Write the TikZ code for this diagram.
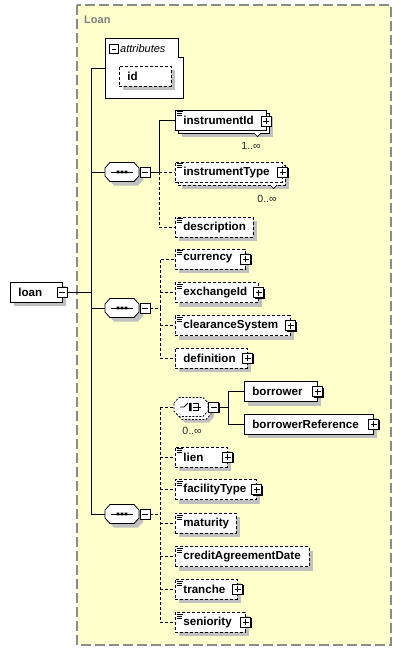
\documentclass[tikz,border=0pt]{standalone}
\usepackage{fontspec}
\setmainfont{Liberation Sans}
\usetikzlibrary{calc,shadows}
\definecolor{bgyellow}{RGB}{255,255,204}
\definecolor{shadowgray}{RGB}{192,192,192}
\definecolor{framegray}{RGB}{140,140,140}
\tikzset{
  elem/.style={draw=black, fill=white, line width=0.8pt, minimum height=20pt, inner sep=0pt, anchor=west,
    font=\bfseries\fontsize{11.6}{13}\selectfont},
  optelem/.style={elem, dash pattern=on 3pt off 2pt},
  shad/.style={general shadow={fill=shadowgray, shadow xshift=4pt, shadow yshift=-4pt}},
  conn/.style={line width=0.8pt},
  optconn/.style={conn, dash pattern=on 3pt off 2pt},
  iconbox/.style={draw=black, fill=white, line width=0.8pt, minimum size=10pt, inner sep=0pt,
    general shadow={fill=black, shadow xshift=1pt, shadow yshift=-1pt}},
  plusicon/.style={iconbox, path picture={\draw[line width=0.9pt]
      ([xshift=2pt]path picture bounding box.west) -- ([xshift=-2pt]path picture bounding box.east)
      ([yshift=-2pt]path picture bounding box.north) -- ([yshift=2pt]path picture bounding box.south);}},
  minusicon/.style={iconbox, path picture={\draw[line width=0.9pt]
      ([xshift=2pt]path picture bounding box.west) -- ([xshift=-2pt]path picture bounding box.east);}},
  holder/.style={inner sep=0pt, minimum width=34pt, minimum height=19pt},
  mult/.style={font=\fontsize{10.5}{12}\selectfont, text=black!85, inner sep=0pt},
}
\newcommand\el[6]{\node[#1,minimum width=#5pt] (#2) at (#3,#4) {\makebox[#5pt][l]{\hspace{8pt}#6}};}
\newcommand\doc[1]{\draw[line width=0.6pt] ($(#1.north west)+(1.5,2)$) -- ++(6.5,0)
  ($(#1.north west)+(1.5,4)$) -- ++(5,0) ($(#1.north west)+(1.5,6)$) -- ++(5,0);}
\newcommand\plusat[1]{\node[plusicon] (#1p) at (#1.east) {};}
\newcommand\octo[2][]{\begin{scope}[shift={(#2)}]
  \path[#1] (-17,-4) -- (-12,-9.5) -- (12,-9.5) -- (17,-4) -- (17,4) -- (12,9.5) -- (-12,9.5) -- (-17,4) -- cycle;
  \end{scope}}
\newcommand\seqsym[1]{%
  \octo[fill=shadowgray, shift={(4,4)}]{#1}
  \octo[draw=black, fill=white, line width=0.8pt]{#1}
  \begin{scope}[shift={(#1)}]
    \draw[line width=1pt] (-11,0) -- (11,0);
    \fill (-5.3,-1.4) rectangle (-2.7,1.4) (-1.3,-1.4) rectangle (1.3,1.4) (2.7,-1.4) rectangle (5.3,1.4);
  \end{scope}}
\begin{document}
\begin{tikzpicture}[x=1pt,y=-1pt]
\useasboundingbox (0,0) rectangle (402,654);
% background group
\draw[fill=bgyellow, draw=framegray, line width=1.2pt, dash pattern=on 10pt off 4pt] (77,5) rectangle (391,645);
\node[anchor=west, inner sep=0pt, text=black!50, font=\bfseries\fontsize{11}{13}\selectfont] (title) at (84,19.5) {Loan};

% attributes box
\draw[fill=white, line width=0.8pt] (105,38) -- (178,38) -- (178,57) -- (183,57) -- (183,98) -- (105,98) -- cycle;
\coordinate (attrW) at (105,68);
\node[minusicon, minimum size=8.5pt] (attrm) at (114,49) {};
\node[anchor=west, inner sep=0pt, font=\itshape\fontsize{11}{13}\selectfont] (attrt) at (120,48.5) {attributes};
\el{optelem,shad}{id}{119}{76}{52}{id}

% root
\el{elem,shad}{loan}{10}{292}{52}{loan}
\node[minusicon] (loanm) at (62,292) {};

% spine
\coordinate (spTop) at (91,68);
\coordinate (spBot) at (91,514);
\draw[conn] (attrW) -- (spTop) -- (spBot);
\draw[conn] (loanm.east) -- (loanm.east -| spTop);

% sequence 1
\node[holder] (s1) at (122,172) {};
\seqsym{s1}
\node[minusicon] (s1m) at (145,172) {};
\draw[conn] (s1.west -| spTop) -- (s1.west);
\coordinate (b1) at (159,172);

% instrumentId (stacked)
\el{elem,shad}{instrumentIdB}{178}{123}{91}{}
\el{elem}{instrumentId}{175}{120}{91}{instrumentId}
\doc{instrumentId}
\node[plusicon] (instrumentIdp) at (266,121) {};
\draw[fill=white, line width=0.7pt] (254,133) -- (257.5,136.5) -- (261,133);
\node[mult] (m1) at (251,146) {1..∞};

% instrumentType (stacked)
\el{optelem,shad}{instrumentTypeB}{178}{175}{107}{}
\el{optelem}{instrumentType}{175}{172}{107}{instrumentType}
\doc{instrumentType}
\plusat{instrumentType}
\draw[fill=white, line width=0.7pt] (270,185) -- (273.5,188.5) -- (277,185);
\node[mult] (m2) at (267,198.5) {0..∞};

\el{optelem,shad}{description}{175}{227}{78}{description}
\doc{description}

\draw[conn] (s1m.east) -- (b1) |- (instrumentId.west);
\draw[optconn] (b1) -- (instrumentType.west);
\draw[optconn] (b1) |- (description.west);

% sequence 2
\node[holder] (s2) at (122,308) {};
\seqsym{s2}
\node[minusicon] (s2m) at (145,308) {};
\draw[conn] (s2.west -| spTop) -- (s2.west);
\coordinate (b2) at (160,308);

\el{optelem,shad}{currency}{175}{259}{70}{currency}
\doc{currency}\plusat{currency}
\el{optelem,shad}{exchangeId}{175}{292.5}{83}{exchangeId}
\doc{exchangeId}\plusat{exchangeId}
\el{optelem,shad}{clearanceSystem}{175}{325.7}{115}{clearanceSystem}
\doc{clearanceSystem}\plusat{clearanceSystem}
\el{optelem,shad}{definition}{175}{358.3}{72}{definition}
\plusat{definition}

\draw[optconn] (s2m.east) -- (b2);
\draw[optconn] (b2) |- (currency.west);
\draw[optconn] (b2 |- exchangeId.west) -- (exchangeId.west);
\draw[optconn] (b2 |- clearanceSystem.west) -- (clearanceSystem.west);
\draw[optconn] (b2) |- (definition.west);

% sequence 3
\node[holder] (s3) at (122,514) {};
\seqsym{s3}
\node[minusicon] (s3m) at (145,514) {};
\draw[conn] (s3.west -| spTop) -- (s3.west);
\coordinate (b3) at (160,514);

% choice
\node[holder] (ch) at (191,407) {};
\octo[fill=shadowgray, shift={(6,6)}]{ch}
\octo[draw=black, fill=white, line width=0.7pt, dash pattern=on 2pt off 1.5pt, shift={(3,3)}]{ch}
\octo[draw=black, fill=white, line width=0.7pt, dash pattern=on 2pt off 1.5pt]{ch}
\begin{scope}[shift={(ch)}]
  \draw[line width=0.8pt] (-11,0) -- (-7,0) -- (-3,-4);
  \fill (-2,-4.2) rectangle (0.6,-1.6) (-2,-1.3) rectangle (0.6,1.3) (-2,1.6) rectangle (0.6,4.2);
  \draw[line width=0.8pt] (2,-3.5) -- (7,-3.5) -- (7,3.5) -- (2,3.5) (2,0) -- (10,0);
\end{scope}
\node[minusicon] (chm) at (213.5,407) {};
\node[mult] (m3) at (192,431) {0..∞};
\coordinate (bc) at (228,407);

\el{elem,shad}{borrower}{244}{391.7}{73}{borrower}
\plusat{borrower}
\el{elem,shad}{borrowerReference}{244}{424.3}{129}{borrowerReference}
\plusat{borrowerReference}
\draw[conn] (chm.east) -- (bc);
\draw[conn] (bc) |- (borrower.west);
\draw[conn] (bc) |- (borrowerReference.west);

\el{optelem,shad}{lien}{175}{457}{52}{lien}
\doc{lien}\plusat{lien}
\el{optelem,shad}{facilityType}{175}{489.6}{81}{facilityType}
\doc{facilityType}\plusat{facilityType}
\el{optelem,shad}{maturity}{175}{523.3}{61}{maturity}
\doc{maturity}
\el{optelem,shad}{creditAgreementDate}{175}{556.7}{134}{creditAgreementDate}
\doc{creditAgreementDate}
\el{optelem,shad}{tranche}{175}{589.3}{62}{tranche}
\doc{tranche}\plusat{tranche}
\el{optelem,shad}{seniority}{175}{622.3}{70}{seniority}
\doc{seniority}\plusat{seniority}

\draw[optconn] (s3m.east) -- (b3);
\draw[optconn] (b3 |- ch.west) -- (ch.west -| 174,0);
\draw[optconn] (b3 |- ch.west) -- (b3 |- seniority.west);
\foreach \n in {lien,facilityType,maturity,creditAgreementDate,tranche,seniority}
  \draw[optconn] (b3 |- \n.west) -- (\n.west);
\end{tikzpicture}
\end{document}
